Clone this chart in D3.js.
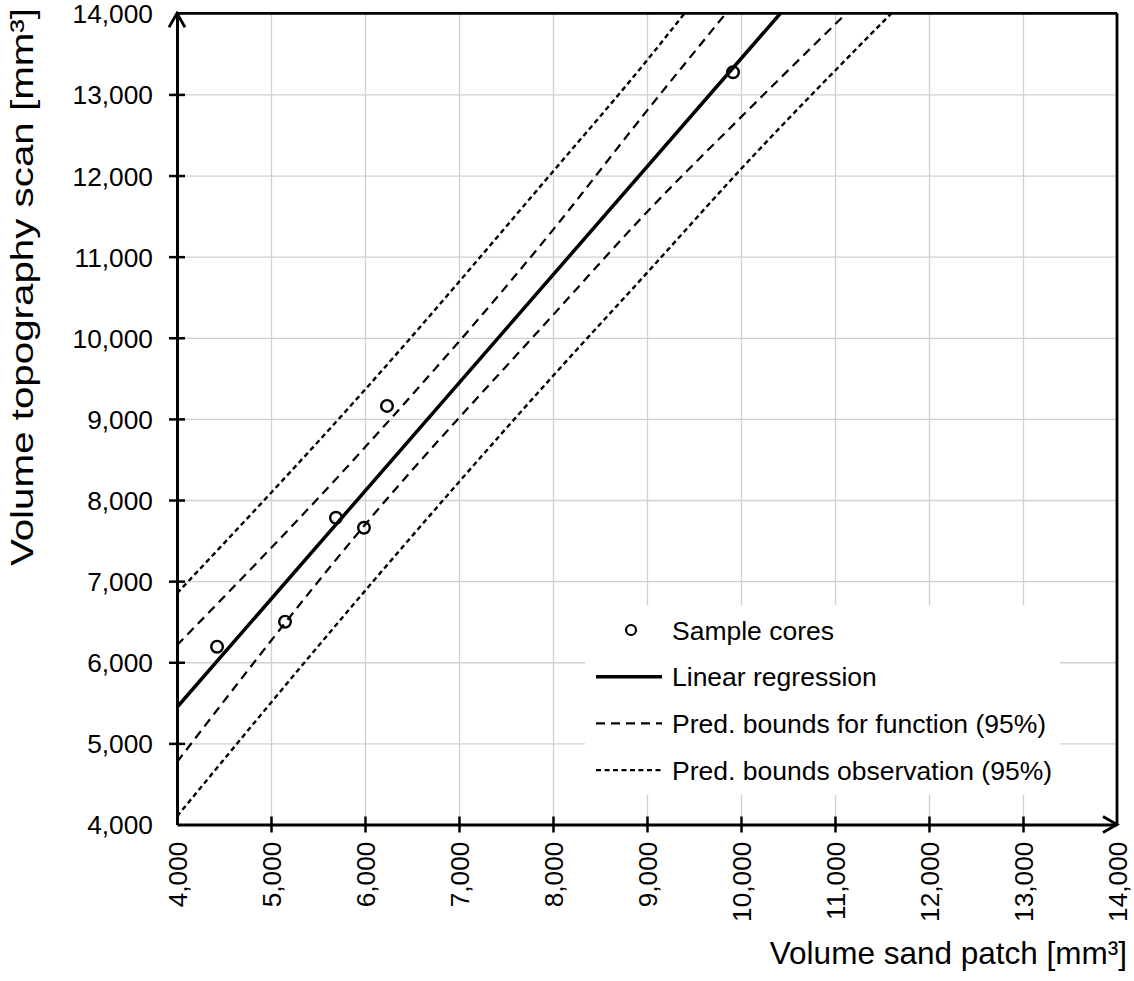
<!DOCTYPE html>
<html>
<head>
<meta charset="utf-8">
<script src="https://cdn.jsdelivr.net/npm/d3@7"></script>
<style>
  body { margin: 0; background: #fff; }
  text { font-family: "Liberation Sans", Arial, sans-serif; fill: #000; }
</style>
</head>
<body>
<div id="chart"></div>
<script>
var margin = { top: 13.3, right: 17, bottom: 156.5, left: 177 },
    width = 1134 - margin.left - margin.right,
    height = 981 - margin.top - margin.bottom;

// sample cores
var coreX = [4426, 5149, 5691, 5989, 6234, 9915],
    coreY = [6192, 6500, 7781, 7658, 9160, 13273];

// regression line ends
var regX = [4000, 10420],
    regY = [5445, 14000];

// prediction bounds for function (95%)
var fnUpX = [4000, 6000, 8000, 9000, 9840],
    fnUpY = [6210, 8650, 11330, 12800, 14000],
    fnLoX = [4000, 6000, 8000, 9000, 10000, 11120],
    fnLoY = [4770, 7695, 10280, 11550, 12720, 14000];

// prediction bounds observation (95%)
var obUpX = [4000, 6000, 8000, 9000, 9400],
    obUpY = [6850, 9360, 12050, 13420, 14000],
    obLoX = [4000, 6000, 8000, 9000, 10000, 11600],
    obLoY = [4100, 6880, 9530, 10800, 12080, 14000];

var ticks = [4000, 5000, 6000, 7000, 8000, 9000, 10000, 11000, 12000, 13000, 14000];

var legendItems = ["Sample cores", "Linear regression",
    "Pred. bounds for function (95%)", "Pred. bounds observation (95%)"];

var x = d3.scaleLinear().domain([4000, 14000]).range([0, width]);
var y = d3.scaleLinear().domain([4000, 14000]).range([height, 0]);
var fmt = d3.format(",");

var svg = d3.select("#chart").append("svg")
    .attr("width", 1134)
    .attr("height", 981)
    .append("g")
    .attr("transform", "translate(" + margin.left + "," + margin.top + ")");

svg.append("clipPath").attr("id", "clip")
    .append("rect").attr("width", width).attr("height", height);

// grid
svg.append("g")
    .attr("transform", "translate(0," + height + ")")
    .call(d3.axisBottom(x).tickValues(ticks).tickSize(-height).tickFormat(""))
    .call(function(g) { g.select(".domain").remove(); })
    .selectAll("line").attr("stroke", "#d0d0d0").attr("stroke-width", 1.3);
svg.append("g")
    .call(d3.axisLeft(y).tickValues(ticks).tickSize(-width).tickFormat(""))
    .call(function(g) { g.select(".domain").remove(); })
    .selectAll("line").attr("stroke", "#d0d0d0").attr("stroke-width", 1.3);

// legend background hides grid
svg.append("rect")
    .attr("x", 585 - margin.left).attr("y", 605 - margin.top)
    .attr("width", 475).attr("height", 190)
    .attr("fill", "#fff");

var plot = svg.append("g").attr("clip-path", "url(#clip)");

function pts(xs, ys) { return xs.map(function(d, i) { return [d, ys[i]]; }); }
var line = d3.line()
    .x(function(d) { return x(d[0]); })
    .y(function(d) { return y(d[1]); })
    .curve(d3.curveMonotoneX);

var series = [
    { d: pts(obUpX, obUpY), dash: "5,3.5", w: 2.4 },
    { d: pts(obLoX, obLoY), dash: "5,3.5", w: 2.4 },
    { d: pts(fnUpX, fnUpY), dash: "9,6", w: 2.2 },
    { d: pts(fnLoX, fnLoY), dash: "9,6", w: 2.2 },
    { d: pts(regX, regY), dash: null, w: 3.5 }
];

plot.selectAll(".series")
    .data(series)
    .enter().append("path")
    .attr("class", "series")
    .attr("d", function(d) { return line(d.d); })
    .attr("fill", "none")
    .attr("stroke", "#000")
    .attr("stroke-width", function(d) { return d.w; })
    .attr("stroke-dasharray", function(d) { return d.dash; });

svg.selectAll(".core")
    .data(pts(coreX, coreY))
    .enter().append("circle")
    .attr("class", "core")
    .attr("cx", function(d) { return x(d[0]); })
    .attr("cy", function(d) { return y(d[1]); })
    .attr("r", 5.8)
    .attr("fill", "none")
    .attr("stroke", "#000")
    .attr("stroke-width", 2.4);

// frame top / right
svg.append("line").attr("x1", 0).attr("x2", width).attr("y1", 0).attr("y2", 0)
    .attr("stroke", "#000").attr("stroke-width", 2.8);
svg.append("line").attr("x1", width).attr("x2", width).attr("y1", 0).attr("y2", height)
    .attr("stroke", "#000").attr("stroke-width", 2.8);

// axes
var xAxis = svg.append("g")
    .attr("transform", "translate(0," + height + ")")
    .call(d3.axisBottom(x).tickValues(ticks).tickFormat(fmt).tickSize(8).tickSizeOuter(0));
xAxis.select(".domain").attr("stroke-width", 3);
xAxis.selectAll(".tick line").attr("y1", -8).attr("y2", 8).attr("stroke-width", 2.5);
xAxis.selectAll(".tick text")
    .attr("transform", "rotate(-90)")
    .attr("x", -17).attr("y", 0).attr("dy", "0.36em")
    .style("text-anchor", "end")
    .style("font-size", "26.3px");

var yAxis = svg.append("g")
    .call(d3.axisLeft(y).tickValues(ticks).tickFormat(fmt).tickSize(8).tickSizeOuter(0));
yAxis.select(".domain").attr("stroke-width", 3);
yAxis.selectAll(".tick line").attr("x1", -8).attr("x2", 8).attr("stroke-width", 2.5);
yAxis.selectAll(".tick text")
    .attr("x", -24).attr("dy", "0.36em")
    .style("font-size", "26.3px");
svg.selectAll(".tick").filter(function(d) { return d === 4000 || d === 14000; })
    .select("line").remove();

// arrowheads
svg.append("path")
    .attr("d", "M" + (-8) + "," + 14 + "L0,0L8,14")
    .attr("fill", "none").attr("stroke", "#000").attr("stroke-width", 2.8);
svg.append("path")
    .attr("d", "M" + (width - 14) + "," + (height - 8) + "L" + width + "," + height + "L" + (width - 14) + "," + (height + 8))
    .attr("fill", "none").attr("stroke", "#000").attr("stroke-width", 2.8);

// axis titles
svg.append("text")
    .attr("x", 1127 - margin.left).attr("y", 964 - margin.top)
    .style("text-anchor", "end")
    .style("font-size", "31.5px")
    .text("Volume sand patch [mm³]");
svg.append("text")
    .attr("transform", "translate(" + (33 - margin.left) + "," + (566 - margin.top) + ") rotate(-90)")
    .style("text-anchor", "start")
    .style("font-size", "31.5px")
    .attr("textLength", 558)
    .attr("lengthAdjust", "spacingAndGlyphs")
    .text("Volume topography scan [mm³]");

// legend
var legend = svg.selectAll(".legend")
    .data(legendItems)
    .enter().append("g")
    .attr("class", "legend")
    .attr("transform", function(d, i) { return "translate(" + (596 - margin.left) + "," + (630 + i * 46.7 - margin.top) + ")"; });

legend.append("text")
    .attr("x", 76).attr("dy", "0.36em")
    .style("font-size", "26.5px")
    .text(function(d) { return d; });

legend.filter(function(d, i) { return i === 0; }).append("circle")
    .attr("cx", 35).attr("r", 5)
    .attr("fill", "none").attr("stroke", "#000").attr("stroke-width", 2.2);
legend.filter(function(d, i) { return i > 0; }).append("line")
    .attr("x1", 0).attr("x2", 66)
    .attr("stroke", "#000")
    .attr("stroke-width", function(d, i) { return i === 0 ? 3.5 : 2.2; })
    .attr("stroke-dasharray", function(d, i) { return i === 0 ? null : (i === 1 ? "9,6" : "5,3.5"); });
</script>
</body>
</html>
